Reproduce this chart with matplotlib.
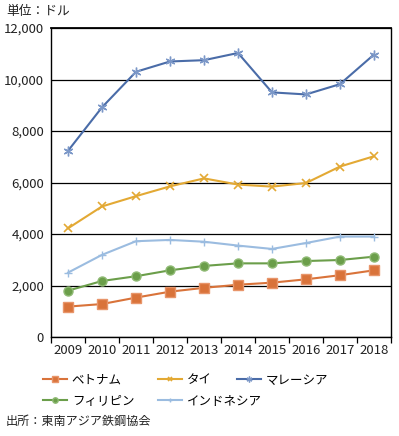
import matplotlib
matplotlib.use("Agg")
import matplotlib.pyplot as plt
from matplotlib.ticker import FuncFormatter, FixedLocator

plt.rcParams['font.family'] = ['Noto Sans CJK JP', 'DejaVu Sans']

years = ["2009", "2010", "2011", "2012", "2013", "2014", "2015", "2016", "2017", "2018"]
vietnam = [1180, 1280, 1530, 1760, 1910, 2030, 2110, 2240, 2400, 2590]
thailand = [4220, 5070, 5470, 5850, 6160, 5920, 5840, 5980, 6620, 7020]
malaysia = [7230, 8920, 10300, 10700, 10750, 11030, 9500, 9420, 9820, 10970]
philippines = [1800, 2175, 2360, 2590, 2760, 2860, 2860, 2950, 2990, 3120]
indonesia = [2500, 3190, 3720, 3770, 3700, 3550, 3420, 3650, 3900, 3900]

names = ["ベトナム", "タイ", "マレーシア", "フィリピン", "インドネシア"]
yticks = [0, 2000, 4000, 6000, 8000, 10000, 12000]

fig = plt.figure(figsize=(3.99, 4.36), dpi=100)
ax = fig.add_axes([51/399, 1-337/436, 340/399, 309/436])

x = list(range(len(years)))
h_v, = ax.plot(x, vietnam, color="#D9733A", marker="s", markersize=6.5, lw=1.5,
               markeredgecolor="#E8956A", markerfacecolor="#D9733A", label=names[0])
h_t, = ax.plot(x, thailand, color="#E3A934", marker="x", markersize=6, lw=1.5,
               markeredgewidth=1.2, label=names[1])
h_m, = ax.plot(x, malaysia, color="#4A6CA8", marker=(6, 2, 0), markersize=7, lw=1.5,
               markeredgewidth=1.0, markeredgecolor="#7C98C8", label=names[2])
h_p, = ax.plot(x, philippines, color="#6B9E4A", marker="o", markersize=6.5, lw=1.5,
               markeredgecolor="#8FBA74", label=names[3])
h_i, = ax.plot(x, indonesia, color="#9BBCE0", marker="+", markersize=6, lw=1.5,
               markeredgewidth=1.0, label=names[4])

ax.set_xlim(-0.5, len(years) - 0.5)
ax.set_ylim(0, 12000)
ax.set_yticks(yticks)
ax.yaxis.set_major_formatter(FuncFormatter(lambda v, p: f"{int(v):,}"))
ax.yaxis.grid(True, color="black", lw=0.9)
ax.set_axisbelow(True)
ax.tick_params(axis="y", length=0, labelsize=9.5, pad=5, colors="#222222")

ax.set_xticks(x)
ax.set_xticklabels(years)
ax.xaxis.set_minor_locator(FixedLocator([i + 0.5 for i in range(-1, len(years))]))
ax.tick_params(axis="x", which="major", length=0, labelsize=9.5, pad=5, colors="#222222")
ax.tick_params(axis="x", which="minor", length=4, width=0.9, color="black", direction="out")

for s in ax.spines.values():
    s.set_color("black")
    s.set_linewidth(1.0)
ax.spines["top"].set_linewidth(1.3)

fig.text(6/399, 1-12/436, "単位：ドル", fontsize=9.2, va="center", ha="left", color="#222222")
fig.text(6/399, 1-421/436, "出所：東南アジア鉄鋼協会", fontsize=8.7, va="center", ha="left", color="#222222")

# legend entries placed individually (row-wise layout as in the reference)
entries = [
    (h_v, names[0], 43, 380),
    (h_t, names[1], 158, 380),
    (h_m, names[2], 237, 380),
    (h_p, names[3], 43, 401),
    (h_i, names[4], 158, 401),
]
for h, lab, px, py in entries:
    fig.legend([h], [lab], loc="center left", bbox_to_anchor=(px/399, 1-py/436),
               frameon=False, fontsize=9, handlelength=1.9, handletextpad=0.4,
               borderpad=0, borderaxespad=0, markerscale=0.6)

fig.savefig("out.png", dpi=100)
